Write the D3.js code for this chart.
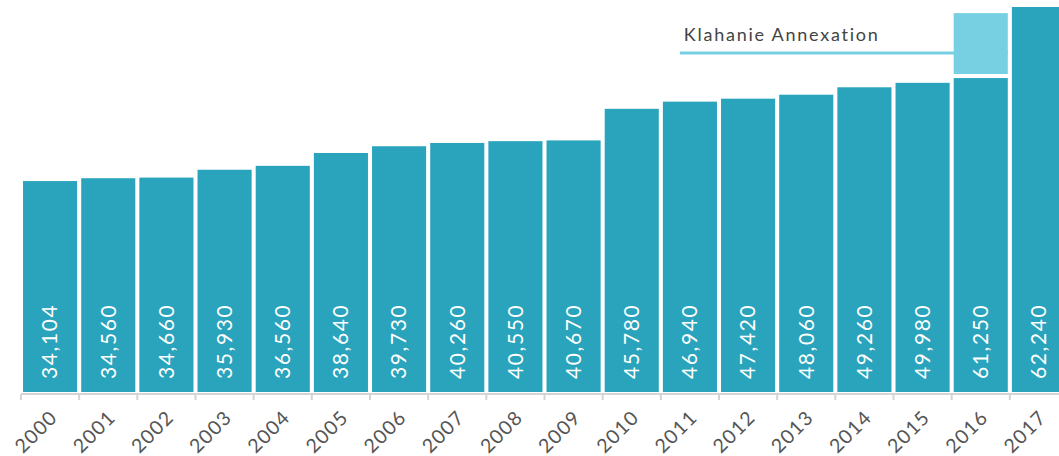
<!DOCTYPE html>
<html>
<head>
    <script src="https://d3js.org/d3.v7.min.js"></script>
    <style>
        body { margin: 0; background: #fff; }
        text { font-family: "Lato", "Open Sans", sans-serif; }
    </style>
</head>
<body>
    <div id="chart"></div>
    <script>
        let years = ["2000", "2001", "2002", "2003", "2004", "2005", "2006", "2007", "2008",
                     "2009", "2010", "2011", "2012", "2013", "2014", "2015", "2016", "2017"];
        let population = [34104, 34560, 34660, 35930, 36560, 38640, 39730, 40260, 40550,
                          40670, 45780, 46940, 47420, 48060, 49260, 49980, 61250, 62240];
        let annexYear = "2016";
        let preAnnex = 50750;
        let annexLabel = "Klahanie Annexation";

        let width = 1059;
        let height = 456;
        let baseY = 392;

        let svg = d3.select("#chart").append("svg")
            .attr("width", width)
            .attr("height", height);

        let x = d3.scaleBand()
            .domain(years)
            .range([21, 1068])
            .paddingInner(0.07)
            .paddingOuter(0.035);

        let y = d3.scaleLinear()
            .domain([0, 62240])
            .range([baseY, 7]);

        let gap = x.step() - x.bandwidth();

        // bars
        svg.append("g")
            .selectAll("rect")
            .data(years)
            .join("rect")
            .attr("x", d => x(d))
            .attr("y", (d, i) => d === annexYear ? y(preAnnex) : y(population[i]))
            .attr("width", x.bandwidth())
            .attr("height", (d, i) => baseY - (d === annexYear ? y(preAnnex) : y(population[i])))
            .attr("fill", "#29a4bc");

        // annotation line
        svg.append("line")
            .attr("x1", x("2011") + 17)
            .attr("x2", x(annexYear) + x.bandwidth())
            .attr("y1", 53)
            .attr("y2", 53)
            .attr("stroke", "#76d0e1")
            .attr("stroke-width", 3);

        // annexation part of 2016
        let annexVal = population[years.indexOf(annexYear)];
        svg.append("rect")
            .attr("x", x(annexYear))
            .attr("y", y(annexVal))
            .attr("width", x.bandwidth())
            .attr("height", y(preAnnex) - gap - y(annexVal))
            .attr("fill", "#76d0e1");

        svg.append("text")
            .attr("x", x("2011") + 21)
            .attr("y", 41)
            .attr("font-size", 18)
            .attr("letter-spacing", 1.75)
            .attr("fill", "#444")
            .text(annexLabel);

        // value labels
        svg.append("g")
            .selectAll("text")
            .data(years)
            .join("text")
            .attr("transform", d => `translate(${x(d) + x.bandwidth() / 2},${baseY - 13}) rotate(-90)`)
            .attr("dy", "0.35em")
            .attr("font-size", 21)
            .attr("letter-spacing", 1.6)
            .attr("fill", "#fff")
            .text((d, i) => d3.format(",")(population[i]));

        // axis
        let axis = svg.append("g");
        axis.append("line")
            .attr("x1", x(years[0]) - gap / 2)
            .attr("x2", width)
            .attr("y1", baseY + 2)
            .attr("y2", baseY + 2)
            .attr("stroke", "#d4d4d4")
            .attr("stroke-width", 2);

        axis.selectAll(".tick")
            .data(years)
            .join("line")
            .attr("class", "tick")
            .attr("x1", d => x(d) - gap / 2)
            .attr("x2", d => x(d) - gap / 2)
            .attr("y1", baseY + 2)
            .attr("y2", baseY + 8)
            .attr("stroke", "#d4d4d4")
            .attr("stroke-width", 2);

        axis.selectAll(".year")
            .data(years)
            .join("text")
            .attr("class", "year")
            .attr("transform", d => `translate(${x(d) + x.bandwidth() / 2 - 1},${baseY + 17}) rotate(-45)`)
            .attr("text-anchor", "end")
            .attr("dy", "0.7em")
            .attr("font-size", 19.5)
            .attr("letter-spacing", 1.3)
            .attr("fill", "#555")
            .text(d => d);
    </script>
</body>
</html>
